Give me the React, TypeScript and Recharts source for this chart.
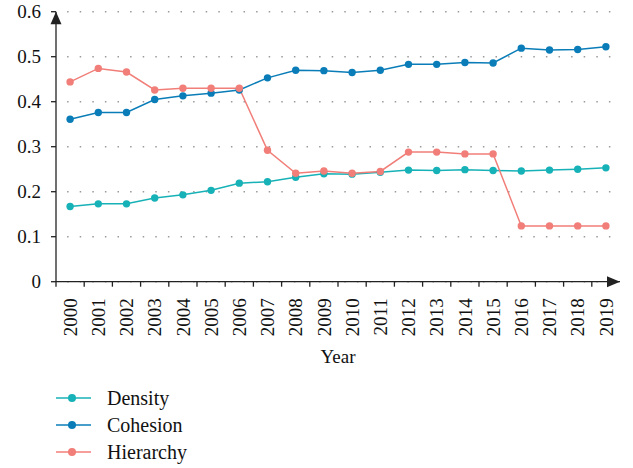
import { CartesianGrid, Label, Legend, Line, LineChart, XAxis, YAxis } from "recharts";

const years = [
  "2000", "2001", "2002", "2003", "2004", "2005", "2006", "2007", "2008", "2009",
  "2010", "2011", "2012", "2013", "2014", "2015", "2016", "2017", "2018", "2019",
];

const density = [
  0.167, 0.173, 0.173, 0.186, 0.193, 0.203, 0.219, 0.222, 0.232, 0.24,
  0.239, 0.243, 0.248, 0.247, 0.249, 0.247, 0.246, 0.248, 0.25, 0.253,
];

const cohesion = [
  0.361, 0.376, 0.376, 0.405, 0.413, 0.419, 0.426, 0.453, 0.47, 0.469,
  0.465, 0.47, 0.483, 0.483, 0.487, 0.486, 0.519, 0.515, 0.516, 0.522,
];

const hierarchy = [
  0.444, 0.474, 0.466, 0.426, 0.43, 0.43, 0.43, 0.292, 0.241, 0.246,
  0.241, 0.245, 0.288, 0.288, 0.284, 0.284, 0.124, 0.124, 0.124, 0.124,
];

const yTicks = [0, 0.1, 0.2, 0.3, 0.4, 0.5, 0.6];

const series = [
  { key: "Density", color: "#17b2b7" },
  { key: "Cohesion", color: "#0a7db8" },
  { key: "Hierarchy", color: "#f17e78" },
];

const data = years.map((year, i) => ({
  year,
  Density: density[i],
  Cohesion: cohesion[i],
  Hierarchy: hierarchy[i],
}));

const FONT = "'Liberation Serif', 'DejaVu Serif', serif";
const AXIS = "#222";
const WIDTH = 633;
const HEIGHT = 468;
const LEFT = 56;
const RIGHT = 13;
const BAND = (WIDTH - LEFT - RIGHT) / years.length;

function XTick(props: any) {
  const { x, y, payload } = props;
  return (
    <g>
      <line x1={x - BAND / 2} y1={y} x2={x - BAND / 2} y2={y + 5} stroke={AXIS} strokeWidth={1.3} />
      <text
        x={x}
        y={y + 16.5}
        dy="0.35em"
        transform={`rotate(-90, ${x}, ${y + 16.5})`}
        textAnchor="end"
        style={{ fontFamily: FONT, fontSize: 19 }}
        fill="#111"
      >
        {payload.value}
      </text>
    </g>
  );
}

function YTick(props: any) {
  const { x, y, payload } = props;
  const v = payload.value as number;
  return (
    <text x={x} y={y} dy="0.33em" textAnchor="end" style={{ fontFamily: FONT, fontSize: 19 }} fill="#111">
      {v === 0 ? "0" : v.toFixed(1)}
    </text>
  );
}

function XAxisExtras(props: any) {
  const { x, y, width } = props.viewBox;
  const tip = x + width;
  return (
    <g>
      <polygon points={`${tip},${y} ${tip - 13},${y - 5.5} ${tip - 13},${y + 5.5}`} fill={AXIS} />
      <text
        x={x + width / 2}
        y={y + 75}
        dy="0.35em"
        textAnchor="middle"
        style={{ fontFamily: FONT, fontSize: 19 }}
        fill="#111"
      >
        Year
      </text>
    </g>
  );
}

function YArrow(props: any) {
  const { x, y, width } = props.viewBox;
  const ax = x + width;
  return <polygon points={`${ax},${y} ${ax - 5.5},${y + 12.5} ${ax + 5.5},${y + 12.5}`} fill={AXIS} />;
}

function LegendBox() {
  return (
    <svg width={220} height={84}>
      {series.map((s, i) => {
        const cy = 14 + i * 27;
        return (
          <g key={s.key}>
            <line x1={6} y1={cy} x2={41} y2={cy} stroke={s.color} strokeOpacity={0.75} strokeWidth={2} />
            <circle cx={22} cy={cy} r={4} fill={s.color} />
            <text x={57} y={cy} dy="0.33em" style={{ fontFamily: FONT, fontSize: 20 }} fill="#111">
              {s.key}
            </text>
          </g>
        );
      })}
    </svg>
  );
}

export default function App() {
  return (
    <div
      style={{
        position: "fixed",
        left: 0,
        top: 0,
        width: WIDTH,
        height: HEIGHT,
        background: "#fff",
        fontFamily: FONT,
      }}
    >
      <LineChart width={WIDTH} height={HEIGHT} data={data} margin={{ top: 11.7, right: RIGHT, left: 0, bottom: 96.3 }}>
        <CartesianGrid vertical={false} stroke="#9a9a9a" strokeWidth={1.5} strokeDasharray="0 11.1 1.5 0" />
        <XAxis
          dataKey="year"
          scale="band"
          height={90}
          stroke={AXIS}
          strokeWidth={1.3}
          tickLine={false}
          tickSize={0}
          tickMargin={0}
          interval={0}
          tick={<XTick />}
        >
          <Label content={<XAxisExtras />} />
        </XAxis>
        <YAxis
          width={LEFT}
          domain={[0, 0.6]}
          ticks={yTicks}
          stroke={AXIS}
          strokeWidth={1.3}
          tickSize={5}
          tickMargin={10}
          tick={<YTick />}
        >
          <Label content={<YArrow />} />
        </YAxis>
        <Legend
          layout="vertical"
          align="center"
          verticalAlign="middle"
          wrapperStyle={{ left: 50, top: 384, width: 220, height: 84 }}
          content={<LegendBox />}
        />
        {series.map((s) => (
          <Line
            key={s.key}
            dataKey={s.key}
            stroke={s.color}
            strokeWidth={1.5}
            dot={{ r: 3.7, fill: s.color, stroke: s.color, strokeWidth: 0 }}
            activeDot={false}
            isAnimationActive={false}
          />
        ))}
      </LineChart>
    </div>
  );
}
